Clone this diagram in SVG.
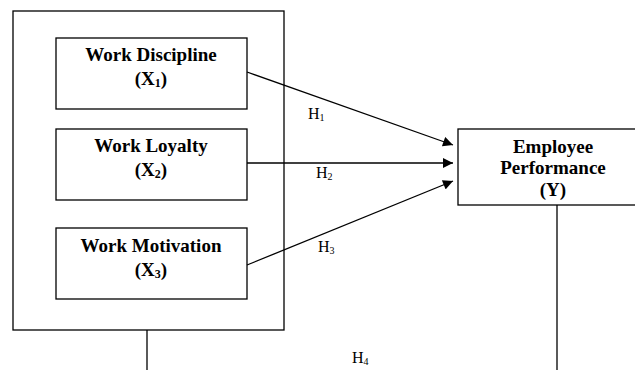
<svg xmlns="http://www.w3.org/2000/svg" width="635" height="370" viewBox="0 0 635 370">
<style>
.box{fill:#fff;stroke:#000;stroke-width:1.3}
.t{font-family:"Liberation Serif",serif;font-weight:bold;font-size:19px;text-anchor:middle;fill:#000}
.h{font-family:"Liberation Serif",serif;font-size:16px;fill:#000}
.c{stroke:#000;stroke-width:1.3;fill:none}
</style>
<defs>
<marker id="ah" viewBox="0 0 10 10" refX="10" refY="5" markerWidth="11" markerHeight="10" markerUnits="userSpaceOnUse" orient="auto">
<path d="M0,0 L10,5 L0,10 z" fill="#000"/>
</marker>
</defs>
<rect width="635" height="370" fill="#fff"/>
<g id="outer"><rect class="box" x="13" y="11" width="271" height="319" fill="none"/></g>
<g id="x1"><rect class="box" x="56" y="38" width="191" height="71"/>
<text class="t" x="151" y="61">Work Discipline</text>
<text class="t" x="151" y="85">(X<tspan font-size="12" dy="2">1</tspan><tspan dy="-2">)</tspan></text></g>
<g id="x2"><rect class="box" x="56" y="129" width="191" height="71"/>
<text class="t" x="151" y="152">Work Loyalty</text>
<text class="t" x="151" y="176">(X<tspan font-size="12" dy="2">2</tspan><tspan dy="-2">)</tspan></text></g>
<g id="x3"><rect class="box" x="56" y="228" width="191" height="71"/>
<text class="t" x="151" y="252">Work Motivation</text>
<text class="t" x="151" y="276">(X<tspan font-size="12" dy="2">3</tspan><tspan dy="-2">)</tspan></text></g>
<g id="y"><rect class="box" x="458" y="129" width="185" height="76"/>
<text class="t" x="553" y="153">Employee</text>
<text class="t" x="553" y="174">Performance</text>
<text class="t" x="553" y="196">(Y)</text></g>
<g id="connectors">
<line class="c" x1="247" y1="72" x2="453" y2="145" marker-end="url(#ah)"/>
<line class="c" x1="247" y1="163" x2="453" y2="163" marker-end="url(#ah)"/>
<line class="c" x1="247" y1="265" x2="453" y2="181" marker-end="url(#ah)"/>
<line class="c" x1="147" y1="330" x2="147" y2="370"/>
<line class="c" x1="557" y1="205" x2="557" y2="370"/>
</g>
<g id="labels">
<text class="h" x="308" y="119">H<tspan font-size="10" dy="2">1</tspan></text>
<text class="h" x="316" y="178">H<tspan font-size="10" dy="2">2</tspan></text>
<text class="h" x="318" y="252">H<tspan font-size="10" dy="2">3</tspan></text>
<text class="h" x="352" y="363">H<tspan font-size="10" dy="2">4</tspan></text>
</g>
</svg>
